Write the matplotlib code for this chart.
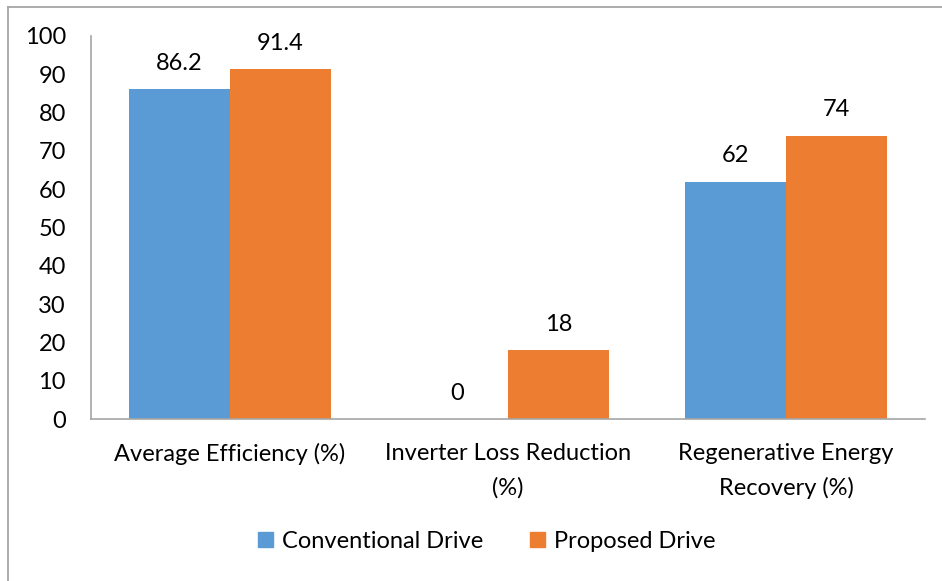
import matplotlib.pyplot as plt
import numpy as np
from matplotlib.lines import Line2D
from matplotlib.patches import Patch

categories = ["Average Efficiency (%)", "Inverter Loss Reduction\n(%)",
              "Regenerative Energy\nRecovery (%)"]
conventional = [86.2, 0, 62]
proposed = [91.4, 18, 74]
series_names = ["Conventional Drive", "Proposed Drive"]
colors = ["#5B9BD5", "#ED7D31"]

plt.rcParams['font.family'] = ['Lato', 'DejaVu Sans']
FS = 17

W, H = 942, 581
fig = plt.figure(figsize=(W / 100, H / 100), dpi=100)
ax = fig.add_axes([91 / W, 162 / H, (925 - 91) / W, (419 - 36) / H])

x = np.arange(len(categories))
bw = 0.363
for vals, off, c in [(conventional, -bw / 2, colors[0]), (proposed, bw / 2, colors[1])]:
    bars = ax.bar(x + off, vals, bw, color=c, edgecolor='none')
    for b, v in zip(bars, vals):
        ax.annotate(f"{v:g}", (b.get_x() + b.get_width() / 2, v),
                    xytext=(0, 11), textcoords='offset points',
                    ha='center', va='bottom', fontsize=FS)

ax.set_xlim(-0.5, 2.5)
ax.set_ylim(0, 100)
ax.set_yticks(range(0, 101, 10))
ax.set_xticks(x)
ax.set_xticklabels(categories, fontsize=FS, linespacing=1.75)
ax.tick_params(axis='y', length=0, pad=18, labelsize=FS)
ax.tick_params(axis='x', length=0, pad=17)
for lbl in ax.get_yticklabels():
    lbl.set_horizontalalignment('right')
for s in ['top', 'right']:
    ax.spines[s].set_visible(False)
for s in ['left', 'bottom']:
    ax.spines[s].set_color('#A6A6A6')
    ax.spines[s].set_linewidth(1.2)

handles = [Patch(color=c) for c in colors]
fig.legend(handles, series_names, loc='center', bbox_to_anchor=(487 / W, 1 - 541 / H),
           ncol=2, frameon=False, fontsize=FS, handlelength=0.6, handleheight=0.6,
           handletextpad=0.4, columnspacing=2.0)

# outer chart border (top and left edges)
fig.add_artist(Line2D([7.5 / W, 7.5 / W], [0, 1 - 6.5 / H], transform=fig.transFigure,
                      color='#A6A6A6', lw=1.3))
fig.add_artist(Line2D([7.5 / W, 1], [1 - 6.5 / H, 1 - 6.5 / H], transform=fig.transFigure,
                      color='#A6A6A6', lw=1.3))

fig.savefig("out.png", dpi=100)
